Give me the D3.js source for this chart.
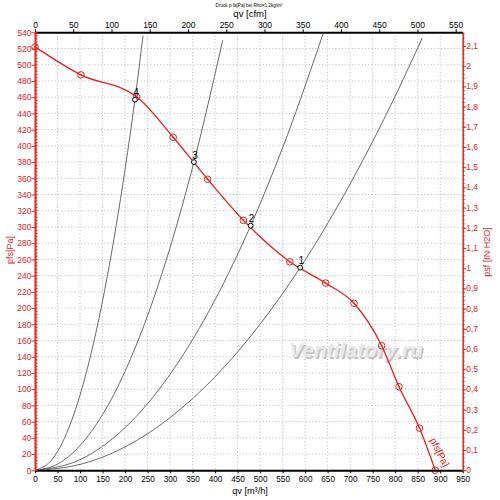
<!DOCTYPE html>
<html><head><meta charset="utf-8">
<script src="https://cdn.jsdelivr.net/npm/d3@7"></script>
<style>body{margin:0;background:#fff}svg{display:block;font-family:"Liberation Sans",Arial,sans-serif}</style>
</head><body>
<svg id="c" width="500" height="500"></svg>
<script>
// ---- data ----
const fanQ = [0, 102, 226, 307, 383.5, 462.8, 566, 645.6, 708.6, 770, 808.5, 854, 889];
const fanP = [522, 487.5, 460.5, 410.6, 358.8, 308.2, 257, 230.8, 205.9, 153.6, 103, 52, 0];

const opLabels = ["1", "2", "3", "4"];
const opQ = [589, 479, 353, 222];
const opP = [249.8, 301.6, 380, 457];

const sys1Q = [0, 100, 200, 300, 400, 500, 589, 700, 800, 860];
const sys1P = [0, 7.2, 28.8, 64.9, 115.3, 180.2, 249.8, 353.1, 461.2, 533];
const sys2Q = [0, 100, 200, 300, 400, 479, 550, 640];
const sys2P = [0, 13.1, 52.6, 118.3, 210.3, 301.6, 397.6, 538.4];
const sys3Q = [0, 50, 100, 150, 200, 250, 300, 353, 417];
const sys3P = [0, 7.6, 30.5, 68.6, 122, 190.6, 274.5, 380, 530.3];
const sys4Q = [0, 40, 80, 120, 160, 200, 222, 240];
const sys4P = [0, 14.8, 59.3, 133.5, 237.4, 370.9, 457, 536];

const qTicks = d3.range(0, 951, 50);          // m³/h
const cfmTicks = d3.range(0, 551, 50);        // cfm
const pTicks = d3.range(0, 541, 20);          // Pa
const inTicks = d3.range(0, 22).map(d => d / 10); // in H2O

const RED = "#e8231f";
const W = 500, H = 500;
const m = {l: 35, r: 37.3, t: 32.3, b: 29.7};
const svg = d3.select("#c");

const x = d3.scaleLinear().domain([0, 950]).range([m.l, W - m.r]);
const y = d3.scaleLinear().domain([0, 540]).range([H - m.b, m.t]);
const xc = d3.scaleLinear().domain([0, 950 / 1.699]).range([m.l, W - m.r]);
const yi = d3.scaleLinear().domain([0, 540 / 249.089]).range([H - m.b, m.t]);

// grid
const grid = svg.append("g").attr("stroke", "#b8b8b8").attr("stroke-width", 1).attr("stroke-dasharray", "1,2.3");
qTicks.slice(1, -1).forEach(v => grid.append("line").attr("x1", x(v)).attr("x2", x(v)).attr("y1", m.t).attr("y2", H - m.b));
pTicks.slice(1, -1).forEach(v => grid.append("line").attr("y1", y(v)).attr("y2", y(v)).attr("x1", m.l).attr("x2", W - m.r));

// watermark
const wm = svg.append("g").attr("font-size", 21).attr("font-weight", "bold").attr("font-style", "italic").attr("text-anchor", "middle");
wm.append("text").attr("x", 357.5).attr("y", 358.5).attr("fill", "#c4c4c4").text("Ventilatory.ru");
wm.append("text").attr("x", 356).attr("y", 357).attr("fill", "#e8e8e8").text("Ventilatory.ru");

// system curves
const line = d3.line().x(d => x(d[0])).y(d => y(d[1])).curve(d3.curveMonotoneX);
[[sys1Q, sys1P], [sys2Q, sys2P], [sys3Q, sys3P], [sys4Q, sys4P]].forEach(([qs, ps]) => {
  svg.append("path").attr("d", line(qs.map((q, i) => [q, ps[i]])))
    .attr("fill", "none").attr("stroke", "#6a6a6a").attr("stroke-width", 1);
});

// fan curve
const fanPts = fanQ.map((q, i) => [q, fanP[i]]);
svg.append("path").attr("d", line(fanPts)).attr("fill", "none").attr("stroke", RED).attr("stroke-width", 1.3);
fanPts.forEach(d => {
  svg.append("circle").attr("cx", x(d[0])).attr("cy", y(d[1])).attr("r", 3.3).attr("fill", "none").attr("stroke", RED).attr("stroke-width", 1);
  svg.append("circle").attr("cx", x(d[0])).attr("cy", y(d[1])).attr("r", 0.8).attr("fill", RED);
});
svg.append("text").attr("transform", `translate(${x(884)},${y(18)}) rotate(63)`)
  .attr("text-anchor", "middle").attr("font-size", 10).attr("fill", RED).attr("dy", -4).text("pfs[Pa]");

// operating points
opQ.forEach((q, i) => {
  svg.append("circle").attr("cx", x(q)).attr("cy", y(opP[i])).attr("r", 2.4).attr("fill", "#fff").attr("stroke", "#000").attr("stroke-width", 1);
  svg.append("text").attr("x", x(q) + 1).attr("y", y(opP[i]) - 3.5).attr("text-anchor", "middle").attr("font-size", 10).attr("fill", "#000").text(opLabels[i]);
});

// axes
const fmtComma = d => String(+d.toFixed(2)).replace(".", ",");
// bottom
const gb = svg.append("g").attr("transform", `translate(0,${H - m.b})`)
  .call(d3.axisBottom(x).tickValues(qTicks).tickSize(3).tickSizeOuter(0).tickFormat(d3.format("d")));
gb.select(".domain").attr("stroke", "#000").attr("stroke-width", 2);
gb.selectAll("text").attr("font-size", 8.2).attr("fill", "#000").attr("dy", null).attr("y", 11.7);
gb.selectAll(".tick line").attr("stroke", "#000");
svg.append("text").attr("x", 250).attr("y", 493.5).attr("text-anchor", "middle").attr("font-size", 9.2).text("qv [m³/h]");
// top
const gt = svg.append("g").attr("transform", `translate(0,${m.t})`)
  .call(d3.axisTop(xc).tickValues(cfmTicks).tickSize(3).tickSizeOuter(0).tickFormat(d3.format("d")));
gt.select(".domain").attr("stroke", "#000").attr("stroke-width", 2);
gt.selectAll("text").attr("font-size", 8.5).attr("fill", "#000").attr("y", -4.5);
gt.selectAll(".tick line").attr("stroke", "#000");
svg.append("text").attr("x", 250).attr("y", 16.5).attr("text-anchor", "middle").attr("font-size", 9.5).text("qv [cfm]");
svg.append("text").attr("x", 249).attr("y", 6.5).attr("text-anchor", "middle").attr("font-size", 4.6).text("Druck p fa[Pa] bei Rho=1,2kg/m³");

// left
const minorP = d3.range(0, 541, 4);
const gl = svg.append("g");
minorP.forEach(v => gl.append("line").attr("x1", m.l).attr("x2", m.l + 2.5).attr("y1", y(v)).attr("y2", y(v)).attr("stroke", RED));
const gla = svg.append("g").attr("transform", `translate(${m.l},0)`)
  .call(d3.axisLeft(y).tickValues(pTicks).tickSize(3.5).tickSizeOuter(0).tickFormat(d3.format("d")));
gla.select(".domain").attr("stroke", RED).attr("stroke-width", 2);
gla.selectAll(".tick line").attr("stroke", RED);
gla.selectAll("text").attr("font-size", 8.5).attr("fill", RED).attr("x", -3.5);
svg.append("text").attr("transform", "translate(13,250) rotate(-90)").attr("text-anchor", "middle").attr("font-size", 9).attr("fill", RED).text("pfs[Pa]");

// right
const xr = W - m.r;
const minorI = d3.range(0, 109).map(d => d / 50);
minorI.forEach(v => svg.append("line").attr("x1", xr).attr("x2", xr + 2).attr("y1", yi(v)).attr("y2", yi(v)).attr("stroke", RED));
const gr = svg.append("g").attr("transform", `translate(${xr},0)`)
  .call(d3.axisRight(yi).tickValues(inTicks).tickSize(3.5).tickSizeOuter(0).tickFormat(fmtComma));
gr.select(".domain").attr("stroke", RED).attr("stroke-width", 1.5);
gr.selectAll(".tick line").attr("stroke", RED);
gr.selectAll("text").attr("font-size", 8.5).attr("fill", RED).attr("x", 3.5).attr("dy", "0.28em");
svg.append("text").attr("transform", "translate(490,252) rotate(-90)").attr("text-anchor", "middle").attr("font-size", 9).attr("fill", RED).text("psf [IN H2O]");
</script>
</body></html>
